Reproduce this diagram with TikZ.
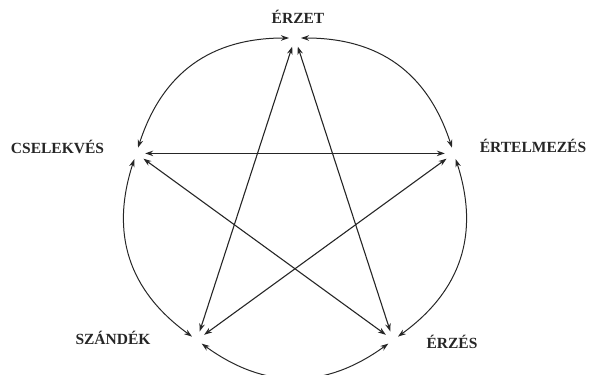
\documentclass[tikz,border=0pt]{standalone}
\usepackage{fontspec}
\setmainfont{Liberation Serif}
\usetikzlibrary{arrows.meta,calc}

\begin{document}
\begin{tikzpicture}[
  x=1pt, y=1pt,
  font=\fontsize{15.5}{18}\selectfont\bfseries,
  star/.style={{Stealth[length=8pt, width=5.5pt]}-{Stealth[length=8pt, width=5.5pt]},
               line width=1.1pt, draw=black!85, shorten <=9pt, shorten >=9pt},
  rim/.style={{Stealth[length=8pt, width=5.5pt]}-{Stealth[length=8pt, width=5.5pt]},
              line width=1pt, draw=black!85, bend left=36, looseness=1.1,
              shorten <=6pt, shorten >=6pt},
  lbl/.style={anchor=base, inner sep=0pt, text=black!85}
]
\useasboundingbox (0,0) rectangle (590,375);

% --- Vertices ---
\coordinate (o) at (295,170);
\coordinate (erzet)      at ($(o)+(90:167)$);
\coordinate (ertelmezes) at ($(o)+(18:167)$);
\coordinate (erzes)      at ($(o)+(-54:167)$);
\coordinate (szandek)    at ($(o)+(-126:167)$);
\coordinate (cselekves)  at ($(o)+(162:167)$);

% --- Labels ---
\node[lbl] (lerzet)      at (298,351.5) {ÉRZET};
\node[lbl] (lertelmezes) at (533,222)   {ÉRTELMEZÉS};
\node[lbl] (lerzes)      at (452,26)    {ÉRZÉS};
\node[lbl] (lszandek)    at (113,30.5)  {SZÁNDÉK};
\node[lbl] (lcselekves)  at (57.5,221)  {CSELEKVÉS};

% --- Star ---
\draw[star] (erzet) -- (erzes);
\draw[star] (erzet) -- (szandek);
\draw[star] (cselekves) -- (ertelmezes);
\draw[star] (cselekves) -- (erzes);
\draw[star] (ertelmezes) -- (szandek);

% --- Circle ---
\draw[rim] (erzet) to (ertelmezes);
\draw[rim] (ertelmezes) to (erzes);
\draw[rim] (erzes) to (szandek);
\draw[rim] (szandek) to (cselekves);
\draw[rim] (cselekves) to (erzet);

\end{tikzpicture}
\end{document}
